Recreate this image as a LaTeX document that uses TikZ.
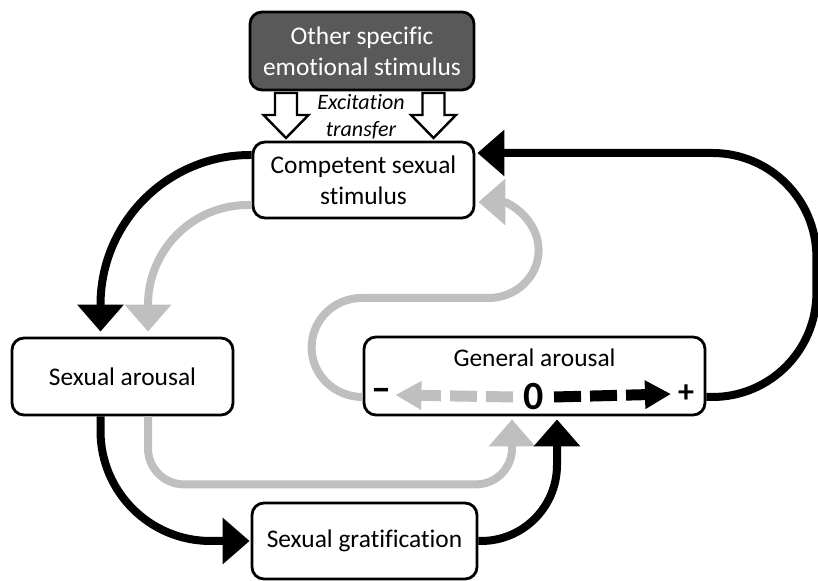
\documentclass[tikz,border=0pt]{standalone}
\usepackage{fontspec}
\setmainfont{Carlito}[Ligatures={TeX,CommonOff}]
\usetikzlibrary{arrows.meta,calc}
\definecolor{boxdark}{HTML}{595959}
\definecolor{linegray}{HTML}{BFBFBF}
\begin{document}
\begin{tikzpicture}[x=.5pt,y=.5pt,
    box/.style={draw,line width=1.4pt,rounded corners=6pt,fill=white,align=center,inner sep=2pt,
        font=\fontsize{12.7}{15.5}\selectfont},
    flow/.style={line width=4pt,-{Triangle[width=22.5pt,length=13.5pt]}},
    dashflow/.style={line width=5.5pt,dash pattern=on 13.5pt off 4.5pt,-{Triangle[width=13.5pt,length=13pt]}},
    sign/.style={font=\bfseries\fontsize{16}{16}\selectfont}]
    \useasboundingbox (0,0) rectangle (818,581);
    % boxes
    \node[box,fill=boxdark,text=white,minimum width=112pt,minimum height=39pt] (other) at (362,530) {Other specific\\emotional stimulus};
    \node[box,minimum width=110.5pt,minimum height=38pt] (comp) at (363.5,401) {Competent sexual\\stimulus};
    \node[box,minimum width=110.5pt,minimum height=38.5pt] (sexar) at (122.5,204.5) {Sexual arousal};
    \node[box,minimum width=170.5pt,minimum height=39pt] (genar) at (534.5,205) {};
    \node[box,minimum width=112.5pt,minimum height=38pt] (grat) at (364.5,40) {Sexual gratification};
    \node[font=\fontsize{12.7}{15.5}\selectfont] (galabel) at (534.5,223) {General arousal};
    \node[font=\itshape\fontsize{11}{13.5}\selectfont,align=center] (exc) at (361,464.5) {Excitation\\transfer};
    % general arousal scale
    \node[font=\bfseries\fontsize{20}{20}\selectfont,inner sep=2pt] (minus) at (381,186) {\textendash};
    \node[font=\bfseries\fontsize{20}{20}\selectfont,inner sep=5pt] (zero) at (533.5,184) {0};
    \node[sign] (plus) at (686,187) {+};
    \draw[dashflow,linegray] (zero.west) -- (minus.east);
    \draw[dashflow] (zero.east) -- (plus.west);
    % excitation transfer
    \foreach \ax in {286,433.5}
        \draw[line width=1.2pt,fill=white] (\ax-11,488) -- ++(0,-22) -- ++(-11.5,0) -- (\ax,443)
            -- (\ax+22.5,466) -- ++(-11.5,0) -- (\ax+11,488) -- cycle;
    % loops
    \draw[flow,rounded corners=75pt] ($(comp.west)+(0,25)$) -| ($(sexar.north)+(-22,5)$);
    \draw[flow,linegray,rounded corners=50pt] ($(comp.west)+(0,-25)$) -| ($(sexar.north)+(25.5,5)$);
    \draw[flow,rounded corners=55pt] ($(sexar.south)+(-22,0)$) |- ($(grat.west)+(-1,0)$);
    \draw[flow,linegray,rounded corners=18pt] ($(sexar.south)+(25.5,0)$) |- ($(genar.south)+(-22.5,-68)$)
        -- ($(genar.south)+(-22.5,-3)$);
    \draw[flow,rounded corners=38pt] (grat.east) -| ($(genar.south)+(22.5,-3)$);
    \draw[flow,rounded corners=52pt] ($(genar.east)+(0,-21)$) -| ($(comp.east)+(341,27)$)
        -- ($(comp.east)+(2,27)$);
    \draw[flow,linegray] ($(genar.west)+(0,-21)$) to[out=180,in=-90] ++(-51,49.5) to[out=90,in=180] ++(50,49.5)
        -- ++(127,0) to[out=0,in=-90] ++(50,48) to[out=90,in=0] ($(comp.east)+(3,-22)$);
\end{tikzpicture}
\end{document}
